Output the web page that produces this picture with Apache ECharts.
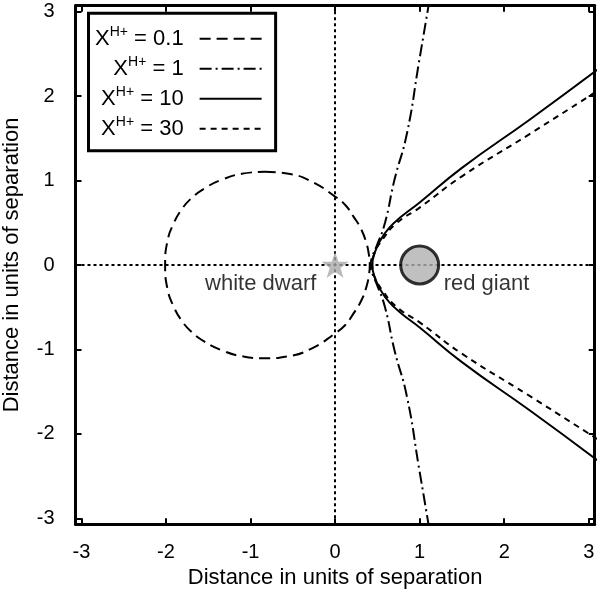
<!DOCTYPE html>
<html>
<head>
<meta charset="utf-8">
<script src="https://cdn.jsdelivr.net/npm/echarts/dist/echarts.min.js"></script>
<style>
    html, body { margin: 0; padding: 0; background: #fff; }
    #main { width: 600px; height: 594px; }
</style>
</head>
<body>
<div id="main"></div>
<script>
// 数据：从图上读出来的点（单位：双星间距）
var ratioNames = ['0.1', '1', '10', '30'];

// X = 0.1 闭合曲线（从顶部开始顺时针）
var x01X = [-0.83, -0.55, -0.28, 0.00, 0.12, 0.22, 0.31, 0.37, 0.40, 0.41, 0.40, 0.37, 0.31, 0.22, 0.12, 0.00, -0.28, -0.55, -0.83, -1.105, -1.34, -1.54, -1.70, -1.82, -1.91, -1.98, -2.01, -1.98, -1.91, -1.82, -1.70, -1.54, -1.34, -1.105, -0.83];
var x01Y = [1.105, 1.08, 0.99, 0.81, 0.71, 0.57, 0.42, 0.26, 0.12, 0.00, -0.12, -0.26, -0.42, -0.57, -0.71, -0.81, -0.99, -1.08, -1.105, -1.08, -1.01, -0.91, -0.79, -0.65, -0.49, -0.295, 0.00, 0.295, 0.49, 0.65, 0.79, 0.91, 1.01, 1.08, 1.105];

// X = 1
var x1X = [1.11, 0.99, 0.85, 0.70, 0.59, 0.49, 0.44, 0.42, 0.44, 0.49, 0.59, 0.70, 0.85, 0.99, 1.11];
var x1Y = [-3.10, -2.39, -1.56, -1.00, -0.50, -0.22, -0.10, 0.00, 0.10, 0.22, 0.50, 1.00, 1.56, 2.39, 3.10];

// X = 10
var x10X = [3.10, 2.30, 1.50, 1.00, 0.78, 0.64, 0.54, 0.47, 0.44, 0.47, 0.54, 0.64, 0.78, 1.00, 1.50, 2.30, 3.10];
var x10Y = [-2.31, -1.72, -1.15, -0.74, -0.57, -0.44, -0.30, -0.15, 0.00, 0.15, 0.30, 0.44, 0.57, 0.74, 1.15, 1.72, 2.31];

// X = 30
var x30X = [3.10, 2.30, 1.50, 1.00, 0.72, 0.56, 0.47, 0.44, 0.47, 0.56, 0.72, 1.00, 1.50, 2.30, 3.10];
var x30Y = [-2.06, -1.55, -1.05, -0.68, -0.49, -0.30, -0.15, 0.00, 0.15, 0.30, 0.49, 0.68, 1.05, 1.55, 2.06];

// 两颗星的位置
var dwarfPos = [0, 0];
var giantPos = [1, 0];

function pairs(xs, ys) {
    var out = [];
    for (var i = 0; i < xs.length; i++) {
        out.push([xs[i], ys[i]]);
    }
    return out;
}

var font = 'Liberation Sans';
var starPath = 'path://M12,0 L14.9,8.3 L23.4,8.3 L16.6,13.5 L19.1,22 L12,16.8 L4.9,22 L7.4,13.5 L0.6,8.3 L9.1,8.3 Z';

function intLabel(v) {
    return Math.abs(v - Math.round(v)) < 1e-6 ? String(Math.round(v)) : '';
}

function makeAxis(pos, showLabel, name) {
    var horiz = (pos === 'bottom' || pos === 'top');
    return {
        type: 'value',
        position: pos,
        min: -3.07,
        max: 3.07,
        minInterval: 1,
        maxInterval: 1,
        name: name || '',
        nameLocation: 'middle',
        nameGap: horiz ? 42 : 53,
        nameTextStyle: { color: '#000', fontSize: 22, fontFamily: font },
        axisLine: { show: true, onZero: false, lineStyle: { color: '#000', width: 3 } },
        axisTick: { show: true, inside: true, length: 6, lineStyle: { color: '#000', width: 2 } },
        axisLabel: { show: showLabel, color: '#000', fontSize: 20, fontFamily: font, margin: horiz ? 18 : 21, formatter: intLabel },
        splitLine: { show: false }
    };
}

var myChart = echarts.init(document.getElementById('main'));

var dashes = [[11, 6], [12, 4, 2, 4], 'solid', [6, 5]];
var curves = [pairs(x01X, x01Y), pairs(x1X, x1Y), pairs(x10X, x10Y), pairs(x30X, x30Y)];

var series = [];
for (var i = 0; i < ratioNames.length; i++) {
    series.push({
        name: ratioNames[i],
        type: 'line',
        data: curves[i],
        symbol: 'none',
        smooth: 0.5,
        lineStyle: { color: '#000', width: 2, type: dashes[i] },
        itemStyle: { color: '#000' },
        z: 3
    });
}

// 零轴虚线
series[2].markLine = {
    silent: true,
    symbol: ['none', 'none'],
    label: { show: false },
    lineStyle: { color: '#000', width: 2, type: [3, 3] },
    data: [{ xAxis: 0 }, { yAxis: 0 }]
};

series.push({
    name: 'white dwarf',
    type: 'scatter',
    data: [dwarfPos],
    symbol: starPath,
    symbolKeepAspect: true,
    symbolSize: 27,
    itemStyle: { color: '#a9a9a9' },
    z: 5
});
series.push({
    name: 'red giant',
    type: 'scatter',
    data: [giantPos],
    symbolSize: 38,
    itemStyle: { color: '#b0b0b0', borderColor: '#000', borderWidth: 3 },
    z: 5
});
// 文字标注
series.push({
    name: 'labels',
    type: 'scatter',
    symbolSize: 0,
    silent: true,
    data: [
        { name: 'white dwarf', value: [-0.88, -0.23] },
        { name: 'red giant', value: [1.79, -0.23] }
    ],
    label: {
        show: true,
        position: 'inside',
        formatter: function (p) { return p.name; },
        color: '#000',
        fontSize: 22,
        fontFamily: font
    },
    z: 6
});

var option = {
    animation: false,
    backgroundColor: '#fff',
    grid: { left: 75.5, right: 5.3, top: 5.7, bottom: 69.7, outerBoundsMode: 'none' },
    xAxis: [makeAxis('bottom', true, 'Distance in units of separation'), makeAxis('top', false)],
    yAxis: [makeAxis('left', true, 'Distance in units of separation'), makeAxis('right', false)],
    legend: {
        data: ratioNames,
        orient: 'vertical',
        align: 'right',
        left: 88.5,
        top: 13.3,
        padding: [11.5, 13, 11, 6.5],
        itemGap: 5,
        itemWidth: 62,
        itemHeight: 14,
        selectedMode: false,
        backgroundColor: '#fff',
        borderColor: '#000',
        borderWidth: 3,
        itemStyle: { opacity: 0 },
        formatter: function (name) {
            return '{x|X}{s|H+}{x| = ' + name + '}{g| }';
        },
        textStyle: {
            color: '#000',
            fontFamily: font,
            rich: {
                x: { fontSize: 22, lineHeight: 28, fontFamily: font, color: '#000' },
                s: { fontSize: 14, verticalAlign: 'top', fontFamily: font, color: '#000' },
                g: { fontSize: 22, width: 11, lineHeight: 28 }
            }
        }
    },
    series: series
};

myChart.setOption(option);
</script>
</body>
</html>
